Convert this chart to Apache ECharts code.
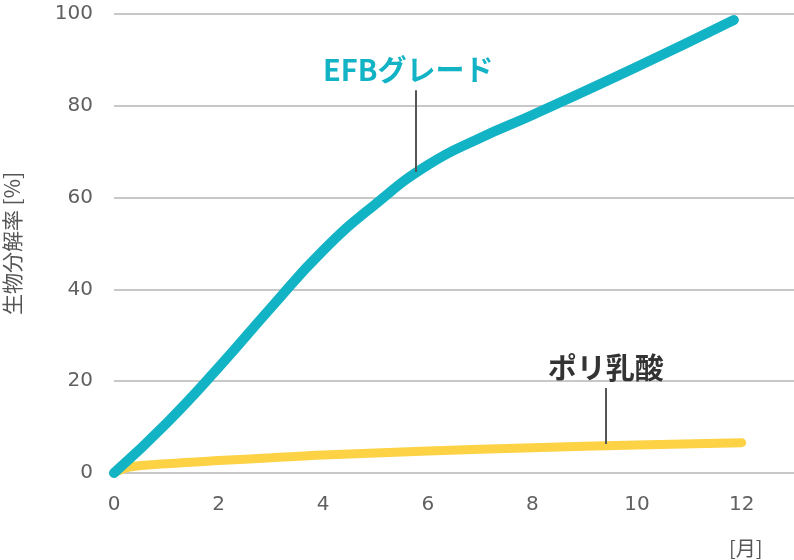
<!DOCTYPE html>
<html>
<head>
<meta charset="utf-8">
<script src="https://cdn.jsdelivr.net/npm/echarts@6/dist/echarts.min.js"></script>
<style>html,body{margin:0;padding:0;background:#fff}#c{width:794px;height:560px}</style>
</head>
<body>
<div id="c"></div>
<script>
// months / values
const efbMonths = [0, 1, 2, 3, 4, 5, 6, 7, 8, 10, 11.85];
const efbValues = [0, 10.8, 23, 36, 48.5, 58.6, 67.1, 73, 78, 88.5, 98.7];
const plaMonths = [0, 0.3, 1, 2, 3, 4, 6, 8, 10, 12];
const plaValues = [0, 1.3, 2.0, 2.7, 3.3, 3.9, 4.8, 5.5, 6.1, 6.6];
const xTicks = [0, 2, 4, 6, 8, 10, 12];
const yTicks = [0, 20, 40, 60, 80, 100];
const efbName = 'EFBグレード';
const plaName = 'ポリ乳酸';
const yName = '生物分解率 [%]';
const xName = '[月]';
const efbLabelAt = { month: 5.76, top: 83.4, bottom: 65.6 };
const plaLabelAt = { month: 9.4, top: 18.5, bottom: 6.3 };

const TEAL = '#12b3c5';
const YELLOW = '#fdd244';
const pairs = (xs, ys) => xs.map((x, i) => [x, ys[i]]);

const chart = echarts.init(document.getElementById('c'), null, { renderer: 'canvas' });
const labelFont = '"DejaVu Sans", sans-serif';
const cjkFont = '"Noto Sans CJK JP", sans-serif';

function leader(pos, text, color, pad) {
  return {
    silent: true,
    symbol: ['none', 'none'],
    lineStyle: { color: '#555', width: 2, type: 'solid' },
    label: {
      show: true, position: 'start', formatter: text, color: color,
      fontFamily: cjkFont, fontWeight: 'bold', fontSize: 29, distance: 6, padding: pad
    },
    data: [[{ coord: [pos.month, pos.top] }, { coord: [pos.month, pos.bottom] }]]
  };
}

chart.setOption({
  animation: false,
  grid: { left: 114, right: 0, top: 14, bottom: 87, outerBoundsMode: 'none', containLabel: false },
  xAxis: {
    type: 'value', min: 0, max: 13, interval: 2,
    axisLine: { show: false }, axisTick: { show: false }, splitLine: { show: false },
    axisLabel: {
      margin: 22, color: '#606060', fontSize: 20, fontFamily: labelFont,
      showMaxLabel: false,
      formatter: v => xTicks.includes(v) ? String(v) : ''
    }
  },
  yAxis: {
    type: 'value', min: 0, max: 100, interval: 20,
    name: yName, nameLocation: 'middle', nameRotate: 90, nameGap: 91,
    nameTextStyle: { color: '#555', fontSize: 21, fontFamily: cjkFont },
    axisLine: { show: false }, axisTick: { show: false },
    splitLine: { show: true, lineStyle: { color: '#c8c8c8', width: 2 } },
    axisLabel: {
      margin: 21, color: '#606060', fontSize: 20, fontFamily: labelFont,
      formatter: v => yTicks.includes(v) ? String(v) : ''
    }
  },
  series: [
    {
      type: 'line', name: plaName, data: pairs(plaMonths, plaValues), smooth: 0.4,
      symbol: 'none', lineStyle: { color: YELLOW, width: 9, cap: 'round' },
      markLine: leader(plaLabelAt, plaName, '#333', [0, 0, 0, 0]), z: 2
    },
    {
      type: 'line', name: efbName, data: pairs(efbMonths, efbValues), smooth: 0.5,
      symbol: 'none', lineStyle: { color: TEAL, width: 10, cap: 'round' },
      markLine: leader(efbLabelAt, efbName, TEAL, [0, 14, 0, 0]), z: 3
    }
  ],
  graphic: []
});

// axis unit "[月]" placed under the 12 tick
const p12 = chart.convertToPixel({ gridIndex: 0 }, [12, 0]);
chart.setOption({
  graphic: [{
    type: 'text', x: p12[0] + 4, y: 548,
    style: { text: xName, fill: '#555', font: '20px ' + cjkFont, textAlign: 'center', textVerticalAlign: 'middle' }
  }]
});
</script>
</body>
</html>
